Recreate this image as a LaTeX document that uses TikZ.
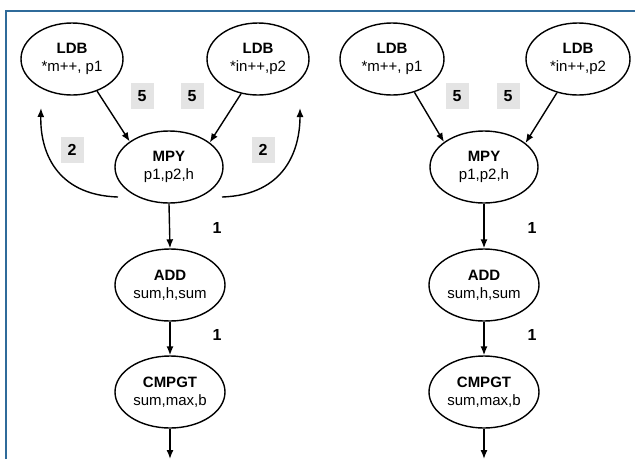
\documentclass[tikz,border=0pt]{standalone}
\usepackage{fontspec}
\setmainfont{Liberation Sans}
\usetikzlibrary{arrows.meta,shapes.geometric}
\definecolor{frameblue}{HTML}{2F6B9A}
\definecolor{boxgray}{HTML}{E4E4E4}

\begin{document}
\begin{tikzpicture}[
  x=1pt,y=-1pt,
  op/.style={ellipse,draw,line width=1.4pt,minimum width=#1,minimum height=72pt,
    inner sep=0pt,align=center,font=\fontsize{15}{18}\selectfont},
  op/.default=110pt,
  lat/.style={font=\fontsize{16}{16}\selectfont\bfseries,inner sep=0pt},
  wt/.style={lat,fill=boxgray,minimum width=23pt,minimum height=26pt},
  flow/.style={line width=1.4pt,-{Latex[length=9pt,width=7pt]}}
  ]
\useasboundingbox (0,0) rectangle (635,459);
\draw[frameblue,line width=2.2pt] (6,459) -- (6,11) -- (635,11);   % panel frame
% first graph, with the feedback arcs
\node[op=102pt] (ldbAL) at (72,59)   {\textbf{LDB}\\*m++, p1};
\node[op=102pt] (ldbBL) at (258,59)  {\textbf{LDB}\\*in++,p2};
\node[op=108pt] (mpyL)  at (169,167) {\textbf{MPY}\\p1,p2,h};
\node[op]       (addL)  at (170,285) {\textbf{ADD}\\sum,h,sum};
\node[op]       (cmpL)  at (170,392) {\textbf{CMPGT}\\sum,max,b};
\coordinate (outL)  at (170,459);
\coordinate (fbAs)  at (118,197);   % arc start, left
\coordinate (fbAe)  at (41,108);    % arc tip, left
\coordinate (fbBs)  at (222,197);   % arc start, right
\coordinate (fbBe)  at (300,108);   % arc tip, right
\draw[flow] (ldbAL.-52) -- (mpyL.147);
\draw[flow] (ldbBL.-116) -- (mpyL.31);
\draw[flow] (mpyL.south) -- (addL.north);
\draw[flow] (addL.south) -- (cmpL.north);
\draw[flow] (cmpL.south) -- (outL);
\draw[flow] (fbAs) .. controls (55,195) and (40,150) .. (fbAe);
\draw[flow] (fbBs) .. controls (285,195) and (300,150) .. (fbBe);
\node[wt]  (w5aL) at (142,96)  {5};
\node[wt]  (w5bL) at (192,96)  {5};
\node[wt]  (w2aL) at (72,150)  {2};
\node[wt]  (w2bL) at (263,150) {2};
\node[lat] (w1aL) at (217,228) {1};
\node[lat] (w1bL) at (217,335) {1};
% second graph
\node[op=104pt] (ldbAR) at (392,59)  {\textbf{LDB}\\*m++, p1};
\node[op=104pt] (ldbBR) at (578,59)  {\textbf{LDB}\\*in++,p2};
\node[op=108pt] (mpyR)  at (484,167) {\textbf{MPY}\\p1,p2,h};
\node[op]       (addR)  at (484,285) {\textbf{ADD}\\sum,h,sum};
\node[op]       (cmpR)  at (484,392) {\textbf{CMPGT}\\sum,max,b};
\coordinate (outR) at (484,459);
\draw[flow] (ldbAR.-56) -- (mpyR.148);
\draw[flow] (ldbBR.-122) -- (mpyR.30);
\draw[flow] (mpyR.south) -- (addR.north);
\draw[flow] (addR.south) -- (cmpR.north);
\draw[flow] (cmpR.south) -- (outR);
\node[wt]  (w5aR) at (457,96)  {5};
\node[wt]  (w5bR) at (508,96)  {5};
\node[lat] (w1aR) at (532,228) {1};
\node[lat] (w1bR) at (532,335) {1};
\end{tikzpicture}
\end{document}
